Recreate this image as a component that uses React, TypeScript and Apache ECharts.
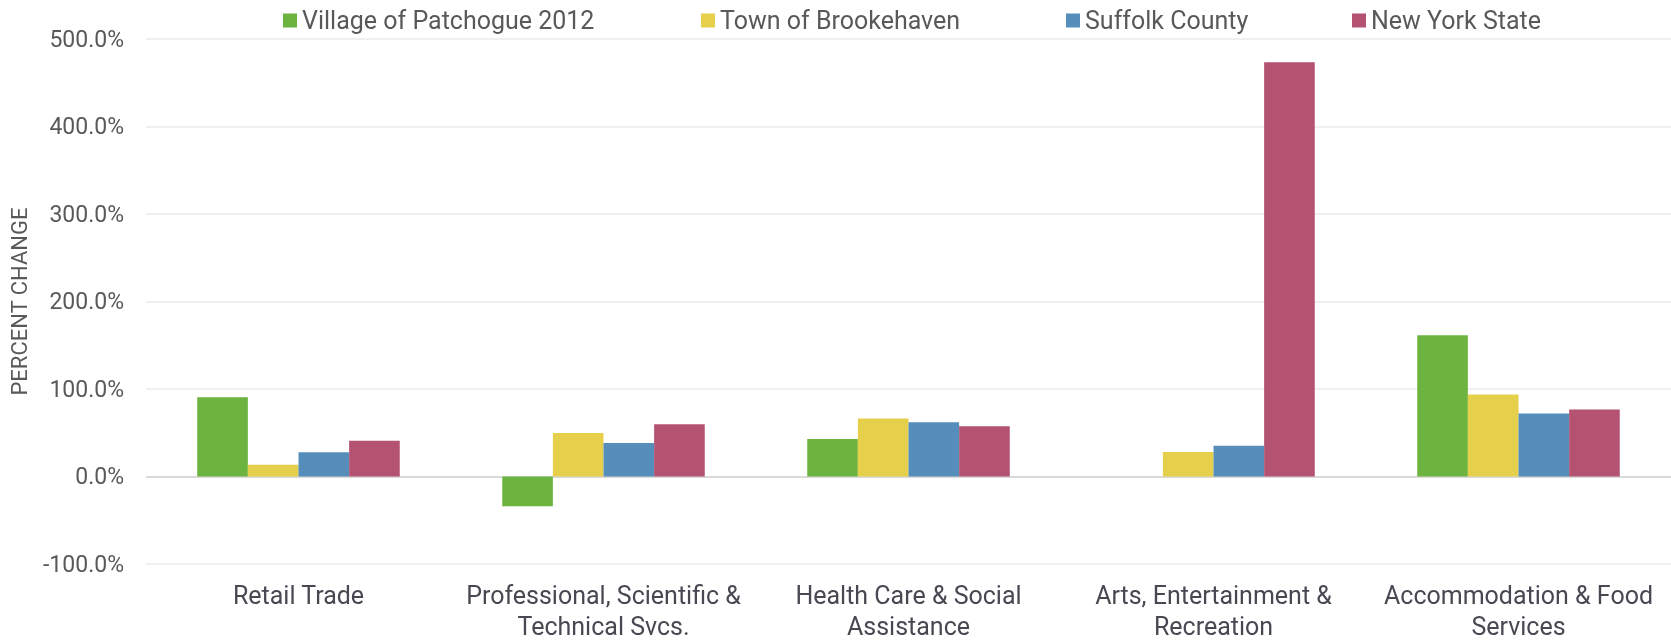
import React, { useEffect, useRef } from "react";
import * as echarts from "echarts";

const categories = [
  "Retail Trade",
  "Professional, Scientific &\nTechnical Svcs.",
  "Health Care & Social\nAssistance",
  "Arts, Entertainment &\nRecreation",
  "Accommodation & Food\nServices",
];
const seriesNames = ["Village of Patchogue 2012", "Town of Brookehaven", "Suffolk County", "New York State"];
const village = [90.5, -34.0, 43.0, null, 161.5];
const brookhaven = [13.3, 49.6, 66.4, 27.9, 93.6];
const suffolk = [27.7, 38.3, 61.9, 35.1, 72.0];
const nys = [40.9, 59.8, 57.4, 473.5, 76.6];
const colors = ["#6DB33F", "#E6CF4A", "#568EBB", "#B45371"];
const legendLeft = [283, 701, 1066, 1352];

const FONT = "Roboto";
const TXT = "#595959";

export default function App() {
  const ref = useRef<HTMLDivElement>(null);
  useEffect(() => {
    const chart = echarts.init(ref.current!, undefined, { renderer: "svg" });
    const data = [village, brookhaven, suffolk, nys];
    chart.setOption({
      animation: false,
      textStyle: { fontFamily: FONT },
      legend: seriesNames.map((n, i) => ({
        data: [n],
        left: legendLeft[i],
        top: 8,
        padding: 0,
        itemWidth: 14,
        itemHeight: 14,
        icon: "rect",
        textStyle: { fontFamily: FONT, fontSize: 25, color: TXT },
      })),
      grid: { left: 146, right: 0, top: 39, bottom: 73 },
      xAxis: {
        type: "category",
        data: categories,
        axisLine: { show: false, onZero: false },
        axisTick: { show: false },
        axisLabel: { fontFamily: FONT, fontSize: 25, color: "#484852", lineHeight: 31, margin: 16, interval: 0 },
      },
      yAxis: {
        type: "value",
        min: -100,
        max: 500,
        interval: 100,
        name: "PERCENT CHANGE",
        nameLocation: "middle",
        nameGap: 116,
        nameTextStyle: { fontFamily: FONT, fontSize: 22, color: TXT },
        axisLabel: {
          fontFamily: FONT,
          fontSize: 23,
          color: TXT,
          margin: 22,
          formatter: (v: number) => v.toFixed(1) + "%",
        },
        splitLine: {
          lineStyle: {
            width: 2,
            color: ["#F0F0F0", "#D9D9D9", "#F0F0F0", "#F0F0F0", "#F0F0F0", "#F0F0F0", "#F0F0F0"],
          },
        },
      },
      series: seriesNames.map((n, i) => ({
        name: n,
        type: "bar",
        data: data[i],
        barGap: "0%",
        barCategoryGap: "33.6%",
        itemStyle: { color: colors[i] },
      })),
    });
    return () => chart.dispose();
  }, []);
  return <div ref={ref} style={{ position: "fixed", left: 0, top: 0, width: 1671, height: 642 }} />;
}
